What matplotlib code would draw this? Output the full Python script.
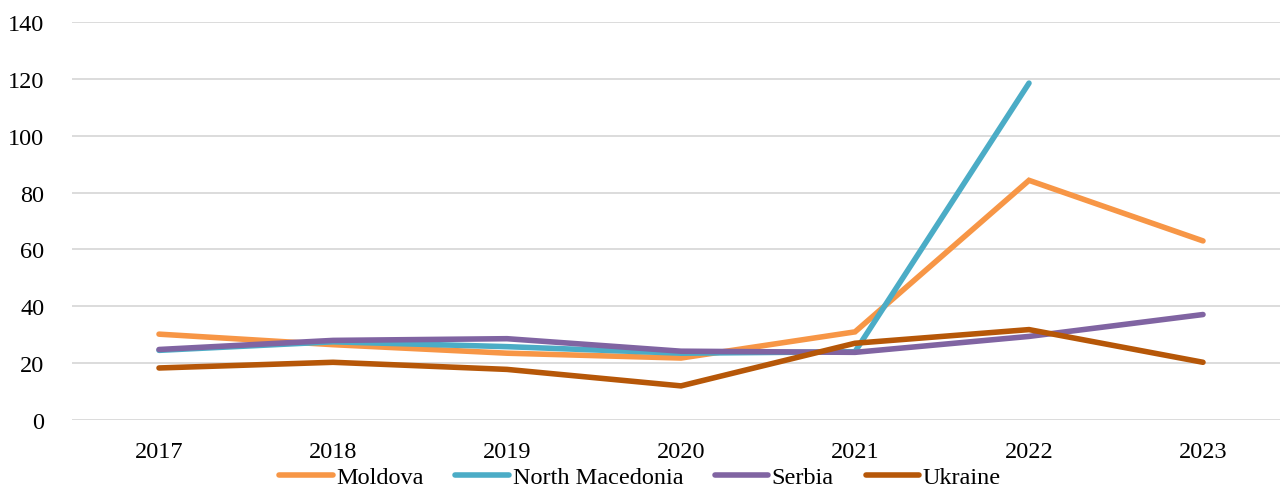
import matplotlib
matplotlib.use("Agg")
import matplotlib.pyplot as plt

years = [2017, 2018, 2019, 2020, 2021, 2022, 2023]
moldova = [30.2, 26.5, 23.5, 21.8, 31.0, 84.3, 63.0]
north_macedonia = [24.5, 27.5, 25.8, 23.5, 24.0, 118.5]
serbia = [24.8, 28.0, 28.6, 24.2, 23.8, 29.4, 37.1]
ukraine = [18.3, 20.3, 17.8, 12.0, 27.0, 31.8, 20.3]

series = [
    ("Moldova", years, moldova, "#F79646"),
    ("North Macedonia", years[:6], north_macedonia, "#4BACC6"),
    ("Serbia", years, serbia, "#8064A2"),
    ("Ukraine", years, ukraine, "#B65708"),
]

plt.rcParams['font.family'] = ['Liberation Serif', 'DejaVu Serif']

fig = plt.figure(figsize=(12.8, 4.89), dpi=100)
ax = fig.add_axes([72/1280, 68/489, 1208/1280, 398/489])

for name, xs, ys, c in series:
    ax.plot(xs, ys, color=c, lw=4.0, solid_capstyle='round', solid_joinstyle='miter', label=name)

ax.set_ylim(0, 140)
ax.set_xlim(2016.5, 2016.5 + 1208/174)
ax.set_yticks(range(0, 141, 20))
ax.set_xticks(years)
ax.grid(axis='y', color='#D9D9D9', lw=1.3)
ax.set_axisbelow(True)
for s in ax.spines.values():
    s.set_visible(False)
ax.tick_params(axis='both', length=0, labelsize=17.5, colors='black')
ax.tick_params(axis='y', pad=20)
ax.tick_params(axis='x', pad=15)

leg = fig.legend(loc='lower center', bbox_to_anchor=(0.5, -0.045), ncol=4, frameon=False,
                 fontsize=17.5, handlelength=2.2, handletextpad=0.15, columnspacing=1.3)
fig.savefig("out.png", dpi=100)
